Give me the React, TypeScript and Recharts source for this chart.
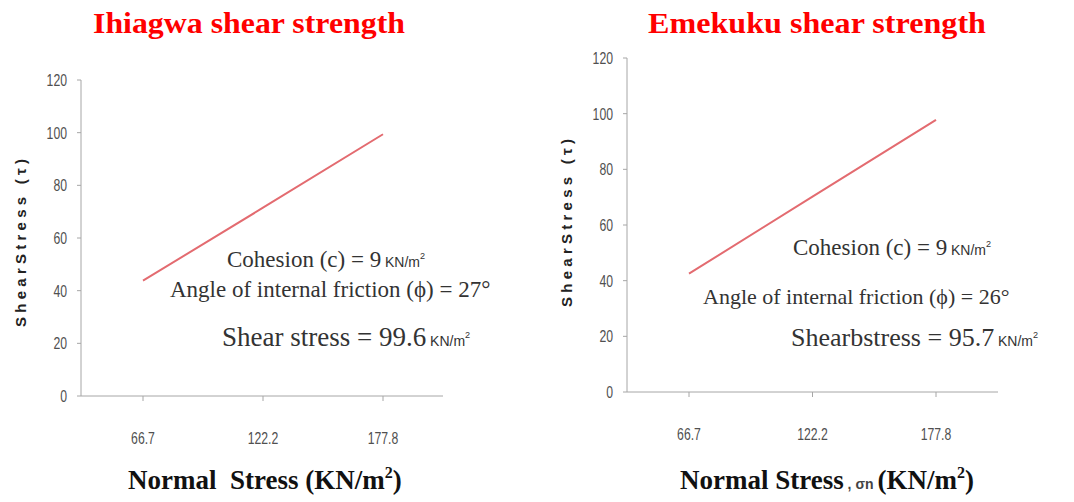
import React from 'react';
import { LineChart, Line, XAxis, YAxis } from 'recharts';

const normalStress = ['66.7', '122.2', '177.8'];
const ihiagwaShear = [43.8, 71.5, 99.4];
const emekukuShear = [42.5, 70.2, 97.8];
const yTicks = [0, 20, 40, 60, 80, 100, 120];

const ihiagwaData = normalStress.map((x, i) => ({ x, y: ihiagwaShear[i] }));
const emekukuData = normalStress.map((x, i) => ({ x, y: emekukuShear[i] }));

const AXIS = '#a6a6a6';
const TICK = '#505050';
const LINE = '#e36b70';
const TXT = '#333333';
const serif = '"Liberation Serif", "Times New Roman", serif';
const sans = '"Liberation Sans", Arial, sans-serif';

function CondensedTick(props: any) {
  const { x, y, payload, textAnchor, verticalAnchor } = props;
  const dy = verticalAnchor === 'start' ? 12 : 6;
  return (
    <g transform={`translate(${x},${y}) scale(0.72,1)`}>
      <text x={0} y={0} dy={dy} textAnchor={textAnchor} fill={TICK} fontSize={17} fontFamily={sans}>
        {payload.value}
      </text>
    </g>
  );
}

function Panel({ data, left, yAxisWidth, top, right, bottom, padL, padR }: any) {
  return (
    <div style={{ position: 'absolute', left, top: 0 }}>
      <LineChart width={537} height={502} data={data} margin={{ top, right, bottom, left: 0 }}>
        <XAxis
          dataKey="x"
          type="category"
          padding={{ left: padL, right: padR }}
          stroke={AXIS}
          tickSize={5}
          tickMargin={31}
          tick={<CondensedTick />}
          height={60}
          tickLine={{ stroke: AXIS }}
        />
        <YAxis
          domain={[0, 120]}
          ticks={yTicks}
          width={yAxisWidth}
          stroke={AXIS}
          tickSize={4}
          tickMargin={10}
          tick={<CondensedTick />}
          tickLine={{ stroke: AXIS }}
        />
        <Line type="linear" dataKey="y" stroke={LINE} strokeWidth={2} dot={false} isAnimationActive={false} />
      </LineChart>
    </div>
  );
}

function Unit({ size = 14 }: { size?: number }) {
  return (
    <>
      <tspan fontFamily={sans} fontSize={size}>{' KN/m'}</tspan>
      <tspan fontFamily={sans} fontSize={size * 0.65} dy={-size * 0.55}>2</tspan>
    </>
  );
}

export default function App() {
  return (
    <div style={{ position: 'absolute', left: 0, top: 0, width: 1074, height: 502, background: '#fff', overflow: 'hidden' }}>
      <Panel data={ihiagwaData} left={0} yAxisWidth={81} top={80} right={94} bottom={46} padL={62} padR={60} />
      <Panel data={emekukuData} left={537} yAxisWidth={90} top={58} right={76} bottom={50} padL={62} padR={62} />
      <svg width={1074} height={502} style={{ position: 'absolute', left: 0, top: 0, pointerEvents: 'none' }}>
        {/* titles */}
        <text x={93} y={33} fill="#ff0000" fontFamily={serif} fontWeight="bold" fontSize={29} textLength={312} lengthAdjust="spacingAndGlyphs">Ihiagwa shear strength</text>
        <text x={648} y={33} fill="#ff0000" fontFamily={serif} fontWeight="bold" fontSize={29} textLength={338} lengthAdjust="spacingAndGlyphs">Emekuku shear strength</text>

        {/* y axis labels */}
        <text transform="translate(26,243) rotate(-90)" textAnchor="middle" fill="#222" fontFamily={sans} fontWeight="bold" fontSize={15} textLength={168} lengthAdjust="spacing">ShearStress  (τ)</text>
        <text transform="translate(572,223) rotate(-90)" textAnchor="middle" fill="#222" fontFamily={sans} fontWeight="bold" fontSize={15} textLength={168} lengthAdjust="spacing">ShearStress  (τ)</text>

        {/* left annotations */}
        <text x={227} y={267} fill={TXT} fontFamily={serif} fontSize={23}>Cohesion (c) = 9<Unit /></text>
        <text x={170} y={297} fill={TXT} fontFamily={serif} fontSize={23}>Angle of internal friction (ϕ) = 27°</text>
        <text x={222} y={346} fill={TXT} fontFamily={serif} fontSize={27}>Shear stress = 99.6<Unit /></text>

        {/* right annotations */}
        <text x={793} y={255} fill={TXT} fontFamily={serif} fontSize={23}>Cohesion (c) = 9<Unit /></text>
        <text x={703} y={304} fill={TXT} fontFamily={serif} fontSize={22}>Angle of internal friction (ϕ) = 26°</text>
        <text x={791} y={346} fill={TXT} fontFamily={serif} fontSize={26}>Shearbstress = 95.7<Unit /></text>

        {/* x axis titles */}
        <text x={128} y={489} fill="#111" fontFamily={serif} fontWeight="bold" fontSize={27}>
          {'Normal\u00a0 Stress (KN/m'}
          <tspan fontSize={16} dy={-11}>2</tspan>
          <tspan dy={11}>)</tspan>
        </text>
        <text x={680} y={489} fill="#111" fontFamily={serif} fontWeight="bold" fontSize={27}>
          {'Normal Stress'}
          <tspan fontSize={14} fontFamily={sans} fill="#444">{' ,\u00a0σn\u00a0'}</tspan>
          {'(KN/m'}
          <tspan fontSize={16} dy={-11}>2</tspan>
          <tspan dy={11}>)</tspan>
        </text>
      </svg>
    </div>
  );
}
